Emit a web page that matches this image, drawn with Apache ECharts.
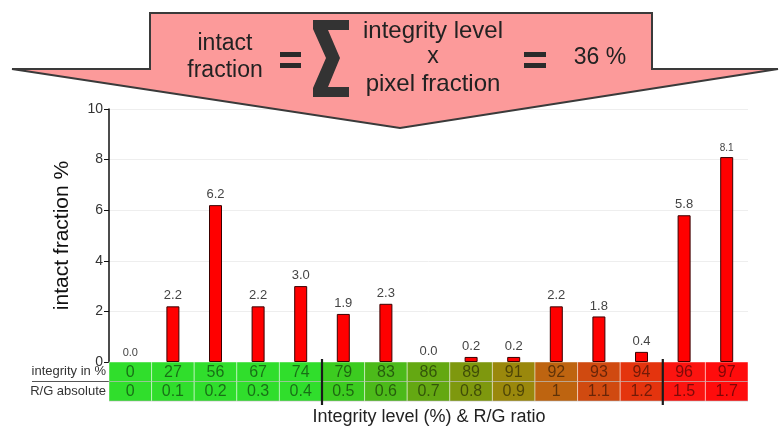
<!DOCTYPE html>
<html>
<head>
<meta charset="utf-8">
<script src="https://cdn.jsdelivr.net/npm/echarts@6/dist/echarts.min.js"></script>
<style>
html,body{margin:0;padding:0;background:#fff;}
#chart{width:779px;height:428px;}
</style>
</head>
<body>
<div id="chart"></div>
<script>
// ---- data ----
const integrityLevels = ['0','27','56','67','74','79','83','86','89','91','92','93','94','96','97'];
const rgRatios = ['0','0.1','0.2','0.3','0.4','0.5','0.6','0.7','0.8','0.9','1','1.1','1.2','1.5','1.7'];
const intactFraction = [0.0,2.2,6.2,2.2,3.0,1.9,2.3,0.0,0.2,0.2,2.2,1.8,0.4,5.8,8.1];
const yTicks = [0,2,4,6,8,10];
const groupBreaks = [5,13];

// ---- styles ----
const cellColors = ['#30de2c','#30de2c','#30de2c','#30de2c','#30de2c','#3ccc20','#4cba1a','#64a812','#7e980e','#9a880c','#be6410','#d04a10','#e4340e','#fc1410','#ff0c0c'];
const labelSizes = {0:11, 14:10};

const chart = echarts.init(document.getElementById('chart'));
const FONT = 'Liberation Sans, Arial, sans-serif';

const option = {
  animation:false,
  textStyle:{fontFamily:FONT},
  grid:{left:109,right:31,top:109,bottom:66},
  xAxis:{
    type:'category',
    data:integrityLevels,
    axisLine:{show:false},axisTick:{show:false},axisLabel:{show:false},splitLine:{show:false}
  },
  yAxis:{
    type:'value',min:yTicks[0],max:yTicks[yTicks.length-1],interval:2,
    name:'intact fraction %',nameLocation:'middle',nameGap:36,
    nameTextStyle:{fontSize:21,color:'#111',fontFamily:FONT},
    axisLine:{show:true,lineStyle:{color:'#111',width:1.5}},
    axisTick:{show:true,length:5,lineStyle:{color:'#111'}},
    axisLabel:{fontSize:14,color:'#333',margin:6},
    splitLine:{lineStyle:{color:'#eeeeee'}}
  },
  series:[
    {
      type:'bar',
      data:intactFraction.map((v,i)=>{
        const item = {value:v};
        if(labelSizes[i]) item.label = {fontSize:labelSizes[i]};
        if(v===0) item.itemStyle = {borderWidth:0};
        return item;
      }),
      barWidth:13,
      itemStyle:{color:'#ff0000',borderColor:'#3a0000',borderWidth:1},
      label:{show:true,position:'top',distance:4,fontSize:13,color:'#444',
        formatter:p=>p.value.toFixed(1)},
      z:3
    },
    {
      type:'custom',
      clip:false,
      data:integrityLevels.map((c,i)=>[i]),
      renderItem:function(params,api){
        const i = params.dataIndex;
        const p = api.coord([i,0]);
        const w = api.size([1,0])[0];
        const x0 = p[0]-w/2;
        const y0 = p[1];
        const h = 19.5;
        const children = [
          {type:'rect',shape:{x:x0,y:y0,width:w,height:h},
            style:{fill:cellColors[i],stroke:'rgba(255,255,255,0.45)',lineWidth:1}},
          {type:'rect',shape:{x:x0,y:y0+h,width:w,height:h},
            style:{fill:cellColors[i],stroke:'rgba(255,255,255,0.45)',lineWidth:1}},
          {type:'line',shape:{x1:x0,y1:y0+h,x2:x0+w,y2:y0+h},
            style:{stroke:'rgba(0,0,0,0.18)',lineWidth:1}},
          {type:'line',shape:{x1:x0,y1:y0+2*h,x2:x0+w,y2:y0+2*h},
            style:{stroke:'rgba(0,0,0,0.18)',lineWidth:1}},
          {type:'text',style:{text:integrityLevels[i],x:p[0],y:y0+h/2+0.5,
            textAlign:'center',textVerticalAlign:'middle',fontSize:16,fontFamily:FONT,
            fill:'rgba(0,0,0,0.5)'}},
          {type:'text',style:{text:rgRatios[i],x:p[0],y:y0+1.5*h+0.5,
            textAlign:'center',textVerticalAlign:'middle',fontSize:16,fontFamily:FONT,
            fill:'rgba(0,0,0,0.5)'}}
        ];
        if(groupBreaks.indexOf(i)>=0){
          children.push({type:'line',shape:{x1:x0,y1:y0-3,x2:x0,y2:y0+2*h+4},
            style:{stroke:'#1a1a1a',lineWidth:2.2}});
        }
        return {type:'group',children:children};
      },
      z:2
    }
  ],
  graphic:[
    // row labels
    {type:'text',style:{text:'integrity in %',x:106,y:371,textAlign:'right',textVerticalAlign:'middle',fontSize:13,fill:'#333',fontFamily:FONT}},
    {type:'text',style:{text:'R/G absolute',x:106,y:391,textAlign:'right',textVerticalAlign:'middle',fontSize:13,fill:'#333',fontFamily:FONT}},
    {type:'line',shape:{x1:32,y1:381.5,x2:110,y2:381.5},style:{stroke:'#555',lineWidth:1}},
    // x title
    {type:'text',style:{text:'Integrity level (%) & R/G ratio',x:429,y:417,textAlign:'center',textVerticalAlign:'middle',fontSize:18,fill:'#222',fontFamily:FONT}},
    // arrow
    {type:'polygon',z:10,shape:{points:[[150,13],[652,13],[652,69],[778,69],[400,128],[12,69],[150,69]]},
      style:{fill:'#fc9a9a',stroke:'#3a3a3a',lineWidth:2}},
    {type:'text',z:11,style:{text:'intact',x:225,y:44,textAlign:'center',textVerticalAlign:'middle',fontSize:23,fill:'#222',fontFamily:FONT}},
    {type:'text',z:11,style:{text:'fraction',x:225,y:71,textAlign:'center',textVerticalAlign:'middle',fontSize:23,fill:'#222',fontFamily:FONT}},
    {type:'rect',z:11,shape:{x:280,y:52,width:21,height:5},style:{fill:'#2a2a2a'}},
    {type:'rect',z:11,shape:{x:280,y:63,width:21,height:5},style:{fill:'#2a2a2a'}},
    {type:'polygon',z:11,shape:{points:[[313,20],[349,20],[349,30],[328,30],[340,58],[328,87],[349,87],[349,97],[313,97],[313,88],[326,58],[313,29]]},
      style:{fill:'#333'}},
    {type:'text',z:11,style:{text:'integrity level',x:433,y:31,textAlign:'center',textVerticalAlign:'middle',fontSize:24,fill:'#222',fontFamily:FONT}},
    {type:'text',z:11,style:{text:'x',x:433,y:57,textAlign:'center',textVerticalAlign:'middle',fontSize:23,fill:'#222',fontFamily:FONT}},
    {type:'text',z:11,style:{text:'pixel fraction',x:433,y:84,textAlign:'center',textVerticalAlign:'middle',fontSize:24,fill:'#222',fontFamily:FONT}},
    {type:'rect',z:11,shape:{x:524,y:52,width:22,height:5},style:{fill:'#2a2a2a'}},
    {type:'rect',z:11,shape:{x:524,y:63,width:22,height:5},style:{fill:'#2a2a2a'}},
    {type:'text',z:11,style:{text:'36 %',x:600,y:58,textAlign:'center',textVerticalAlign:'middle',fontSize:23,fill:'#222',fontFamily:FONT}}
  ]
};
chart.setOption(option);
</script>
</body>
</html>
